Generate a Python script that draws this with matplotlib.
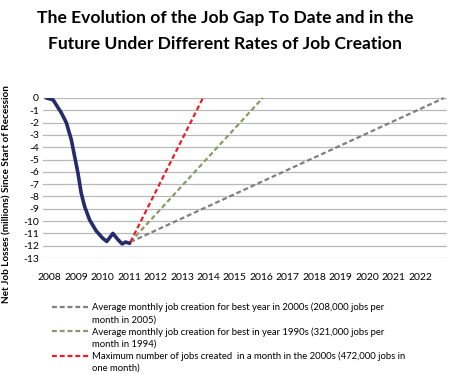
import matplotlib
matplotlib.use("Agg")
import matplotlib.pyplot as plt
from matplotlib.lines import Line2D

plt.rcParams['font.family'] = ['Lato', 'DejaVu Sans']

# Historical job gap (millions)
hist_x = [2007.88, 2008.13, 2008.44, 2008.63, 2008.82, 2008.94, 2009.07, 2009.19,
          2009.32, 2009.51, 2009.76, 2010.01, 2010.16, 2010.39, 2010.58, 2010.74,
          2010.87, 2011.02]
hist_y = [0.0, -0.15, -1.2, -2.0, -3.4, -4.7, -6.1, -7.7,
          -8.8, -9.9, -10.8, -11.4, -11.65, -11.0, -11.5, -11.85,
          -11.7, -11.8]

# Projections: start and end points (year, millions)
proj_start = (2011.05, -11.7)
proj_end_years = {
    "gray": 2022.9,
    "green": 2016.05,
    "red": 2013.79,
}
proj_labels = [
    ("Average monthly job creation for best year in 2000s (208,000 jobs per", "month in 2005)"),
    ("Average monthly job creation for best in year 1990s (321,000 jobs per", "month in 1994)"),
    ("Maximum number of jobs created  in a month in the 2000s (472,000 jobs in", "one month)"),
]
proj_colors = {"gray": "#7f7f7f", "green": "#8a9a66", "red": "#ee1c25"}

year_ticks = list(range(2008, 2023))
y_ticks = list(range(0, -14, -1))

fig = plt.figure(figsize=(4.5, 3.74), dpi=100)
ax = fig.add_axes([0.0956, 0.310, 0.897, 0.428])

for y in y_ticks:
    ax.axhline(y, color="#b8b8b8", lw=0.9, zorder=0)

handles = []
for key in ["gray", "green", "red"]:
    ln, = ax.plot([proj_start[0], proj_end_years[key]], [proj_start[1], 0],
                  color=proj_colors[key], lw=1.6, dashes=(2.2, 1.3), zorder=2,
                  clip_on=False)
    handles.append(ln)

ax.plot(hist_x, hist_y, color="#252b6b", lw=2.6, zorder=3, solid_capstyle="round")

ax.set_xlim(2007.75, 2023.0)
ax.set_ylim(-13, 0)
ax.set_xticks(year_ticks)
ax.set_xticklabels([str(y) for y in year_ticks], fontsize=7.5)
ax.set_yticks(y_ticks)
ax.set_yticklabels([str(y) if y == 0 else "-" + str(-y) for y in y_ticks], fontsize=7.5)
ax.tick_params(length=0, pad=3)
ax.tick_params(axis='x', pad=11)
for s in ax.spines.values():
    s.set_visible(False)

ax.set_ylabel("Net Job Losses (millions) Since Start of Recession",
              fontsize=7.2, fontweight="bold")
ax.yaxis.set_label_coords(-0.078, 0.40)

fig.suptitle("The Evolution of the Job Gap To Date and in the\nFuture Under Different Rates of Job Creation",
             fontsize=12.6, fontweight="bold", y=0.972, linespacing=1.75)

blank = Line2D([], [], linestyle="none")
leg_handles = []
leg_labels = []
for h, (l1, l2) in zip(handles, proj_labels):
    leg_handles += [h, blank]
    leg_labels += [l1, l2]
fig.legend(leg_handles, leg_labels, loc="upper left",
           bbox_to_anchor=(0.115, 0.19), frameon=False, fontsize=6.8,
           handlelength=4.0, handletextpad=0.3, labelspacing=0.3,
           borderpad=0, borderaxespad=0)

fig.savefig("out.png", dpi=100)
